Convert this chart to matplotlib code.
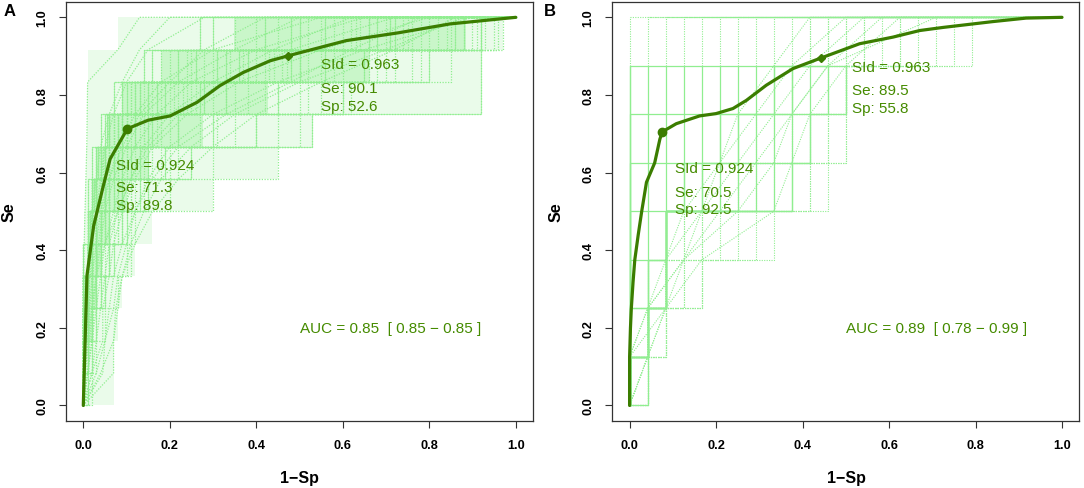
import matplotlib
matplotlib.use("Agg")
import matplotlib.pyplot as plt
import numpy as np

plt.rcParams['font.family'] = ['Liberation Sans', 'DejaVu Sans']

# ---------------- data ----------------
tick_vals = [0.0, 0.2, 0.4, 0.6, 0.8, 1.0]
tick_labels = ["0.0", "0.2", "0.4", "0.6", "0.8", "1.0"]

# Panel A: mean ROC curve
A_fpr = [0, 0.0085, 0.024, 0.045, 0.062, 0.085, 0.102, 0.15, 0.201, 0.263, 0.316,
         0.370, 0.432, 0.474, 0.608, 0.728, 0.848, 1.0]
A_se = [0, 0.335, 0.463, 0.56, 0.635, 0.68, 0.713, 0.735, 0.746, 0.781, 0.824,
        0.858, 0.888, 0.901, 0.94, 0.96, 0.983, 1.0]
A_cut1 = (0.102, 0.713)
A_cut2 = (0.474, 0.901)
A_levels = 12
# bootstrap step curves (x where the curve rises to level k/12)
A_steps = [
    [0, 0, 0, 0, 0.01, 0.02, 0.03, 0.05, 0.08, 0.15, 0.33, 0.50],
    [0, 0, 0, 0.01, 0.02, 0.03, 0.04, 0.06, 0.10, 0.20, 0.40, 0.62],
    [0, 0, 0.01, 0.01, 0.02, 0.04, 0.06, 0.09, 0.14, 0.26, 0.47, 0.70],
    [0, 0, 0, 0, 0, 0.01, 0.02, 0.03, 0.05, 0.10, 0.22, 0.42],
    [0, 0.01, 0.01, 0.02, 0.03, 0.05, 0.08, 0.12, 0.20, 0.35, 0.55, 0.80],
    [0, 0, 0, 0.01, 0.01, 0.02, 0.03, 0.04, 0.07, 0.12, 0.28, 0.58],
    [0, 0, 0.02, 0.03, 0.04, 0.06, 0.09, 0.15, 0.30, 0.45, 0.65, 0.86],
    [0, 0, 0, 0, 0.01, 0.01, 0.02, 0.04, 0.06, 0.09, 0.18, 0.35],
    [0, 0.01, 0.02, 0.03, 0.05, 0.08, 0.12, 0.20, 0.40, 0.55, 0.72, 0.95],
    [0, 0, 0, 0.01, 0.02, 0.02, 0.03, 0.05, 0.09, 0.17, 0.36, 0.66],
    [0, 0, 0.01, 0.02, 0.03, 0.04, 0.05, 0.07, 0.11, 0.22, 0.44, 0.75],
    [0, 0, 0, 0, 0.01, 0.03, 0.04, 0.06, 0.08, 0.14, 0.30, 0.52],
    [0.01, 0.02, 0.03, 0.05, 0.07, 0.10, 0.15, 0.25, 0.40, 0.60, 0.80, 0.92],
    [0, 0, 0, 0.01, 0.01, 0.02, 0.04, 0.05, 0.07, 0.11, 0.25, 0.55],
    [0, 0, 0.01, 0.01, 0.02, 0.03, 0.05, 0.08, 0.13, 0.24, 0.50, 0.85],
    [0, 0, 0, 0, 0, 0.01, 0.01, 0.02, 0.04, 0.07, 0.14, 0.30],
    [0, 0.02, 0.03, 0.04, 0.06, 0.09, 0.14, 0.22, 0.35, 0.52, 0.70, 0.90],
    [0, 0, 0.01, 0.02, 0.02, 0.04, 0.06, 0.10, 0.18, 0.30, 0.52, 0.78],
    [0, 0, 0, 0.01, 0.02, 0.03, 0.05, 0.07, 0.12, 0.19, 0.38, 0.68],
    [0, 0, 0, 0, 0.01, 0.02, 0.03, 0.05, 0.09, 0.16, 0.34, 0.60],
    [0.02, 0.03, 0.05, 0.08, 0.10, 0.12, 0.20, 0.30, 0.45, 0.60, 0.78, 0.91],
    [0, 0, 0.01, 0.01, 0.03, 0.05, 0.07, 0.11, 0.16, 0.28, 0.48, 0.72],
    [0, 0, 0, 0.01, 0.02, 0.04, 0.06, 0.08, 0.12, 0.23, 0.42, 0.64],
    [0, 0.01, 0.02, 0.03, 0.04, 0.07, 0.11, 0.18, 0.31, 0.50, 0.68, 0.84],
    [0, 0, 0, 0, 0.01, 0.01, 0.02, 0.03, 0.06, 0.13, 0.31, 0.56],
    [0, 0, 0.01, 0.02, 0.04, 0.06, 0.10, 0.16, 0.27, 0.42, 0.60, 0.82],
    [0, 0, 0, 0.01, 0.01, 0.02, 0.03, 0.06, 0.10, 0.21, 0.46, 0.74],
    [0, 0, 0.02, 0.04, 0.06, 0.09, 0.13, 0.19, 0.53, 0.92, 0.92, 0.92],
    [0, 0, 0, 0.01, 0.02, 0.03, 0.04, 0.06, 0.09, 0.15, 0.85, 0.96],
    [0, 0, 0, 0, 0.01, 0.02, 0.03, 0.04, 0.07, 0.11, 0.20, 0.40],
    [0, 0.01, 0.01, 0.02, 0.03, 0.04, 0.06, 0.09, 0.15, 0.27, 0.56, 0.88],
    [0, 0, 0.01, 0.02, 0.11, 0.11, 0.30, 0.45, 0.50, 0.62, 0.76, 0.93],
    [0, 0, 0, 0.01, 0.01, 0.03, 0.05, 0.07, 0.10, 0.18, 0.37, 0.63],
    [0, 0, 0, 0, 0.01, 0.02, 0.02, 0.04, 0.06, 0.12, 0.26, 0.48],
    [0, 0, 0.02, 0.05, 0.06, 0.08, 0.11, 0.14, 0.22, 0.38, 0.66, 0.97],
    [0, 0, 0, 0.01, 0.02, 0.03, 0.05, 0.08, 0.17, 0.33, 0.58, 0.76],
    [0, 0, 0, 0.005, 0.01, 0.015, 0.025, 0.035, 0.055, 0.09, 0.16, 0.27],
    [0, 0.005, 0.01, 0.02, 0.03, 0.05, 0.07, 0.10, 0.14, 0.25, 0.43, 0.66],
    [0, 0, 0.005, 0.01, 0.015, 0.02, 0.03, 0.045, 0.08, 0.13, 0.24, 0.45],
    [0, 0.01, 0.02, 0.03, 0.04, 0.06, 0.09, 0.13, 0.22, 0.33, 0.50, 0.71],
]
# bootstrap curves with tied values (x at each level k/12, k = 0..12)
A_ties = [
    [0, 0.005, 0.01, 0.015, 0.02, 0.03, 0.04, 0.06, 0.08, 0.12, 0.18, 0.30, 0.55],
    [0, 0.02, 0.045, 0.045, 0.06, 0.07, 0.09, 0.12, 0.16, 0.24, 0.36, 0.55, 0.80],
    [0, 0.01, 0.02, 0.03, 0.04, 0.05, 0.07, 0.09, 0.12, 0.17, 0.25, 0.40, 0.65],
    [0, 0.03, 0.05, 0.07, 0.08, 0.10, 0.12, 0.15, 0.20, 0.30, 0.45, 0.65, 0.90],
    [0, 0, 0, 0.005, 0.01, 0.015, 0.02, 0.03, 0.04, 0.06, 0.09, 0.13, 0.20],
    [0, 0, 0.005, 0.01, 0.01, 0.02, 0.03, 0.04, 0.05, 0.07, 0.10, 0.15, 0.28],
    [0, 0.01, 0.015, 0.02, 0.03, 0.04, 0.05, 0.07, 0.10, 0.14, 0.22, 0.35, 0.50],
    [0, 0.04, 0.07, 0.08, 0.09, 0.11, 0.14, 0.18, 0.25, 0.35, 0.50, 0.70, 0.88],
    [0, 0.005, 0.01, 0.02, 0.03, 0.05, 0.08, 0.11, 0.15, 0.22, 0.32, 0.48, 0.72],
    [0, 0, 0, 0, 0, 0.002, 0.004, 0.006, 0.008, 0.009, 0.01, 0.08, 0.13],
    [0, 0.01, 0.02, 0.025, 0.03, 0.035, 0.045, 0.06, 0.09, 0.13, 0.20, 0.28, 0.42],
    [0, 0.02, 0.03, 0.04, 0.05, 0.06, 0.08, 0.11, 0.14, 0.20, 0.30, 0.44, 0.62],
    [0, 0.07, 0.07, 0.075, 0.09, 0.12, 0.16, 0.22, 0.30, 0.40, 0.55, 0.72, 0.86],
    [0, 0.045, 0.05, 0.06, 0.07, 0.09, 0.12, 0.16, 0.22, 0.33, 0.48, 0.62, 0.78],
]

# Panel B: mean ROC curve
B_fpr = [0, 0, 0.002, 0.004, 0.008, 0.012, 0.02, 0.028, 0.039, 0.058, 0.070, 0.0755,
         0.108, 0.162, 0.2, 0.239, 0.27, 0.316, 0.378, 0.442, 0.532, 0.609, 0.671,
         0.725, 0.84, 0.917, 1.0]
B_se = [0, 0.125, 0.2, 0.25, 0.318, 0.375, 0.44, 0.5, 0.575, 0.625, 0.686, 0.705,
        0.726, 0.746, 0.752, 0.765, 0.786, 0.825, 0.868, 0.895, 0.932, 0.949, 0.966,
        0.974, 0.989, 0.998, 1.0]
B_cut1 = (0.075, 0.705)
B_cut2 = (0.442, 0.895)
B_levels = 8
B_neg = 24
# bootstrap step curves: count of negatives (x = count/24) at which each level j/8 is reached
B_solid = [
    [0, 0, 0, 0, 0, 0, 0, 0],
    [1, 1, 1, 1, 1, 1, 1, 1],
    [0, 1, 2, 2, 2, 2, 2, 2],
    [0, 0, 0, 2, 3, 3, 3, 3],
    [0, 1, 2, 2, 4, 4, 4, 4],
    [0, 1, 2, 2, 5, 5, 5, 5],
    [0, 0, 1, 2, 6, 6, 6, 6],
    [0, 1, 2, 2, 7, 7, 7, 7],
    [0, 0, 2, 2, 8, 8, 8, 8],
    [0, 1, 2, 2, 9, 9, 9, 9],
    [0, 0, 0, 0, 9, 10, 10, 10],
    [0, 0, 0, 0, 0, 10, 11, 11],
    [0, 0, 0, 0, 0, 0, 12, 12],
    [0, 0, 0, 0, 0, 0, 0, 12],
    [0, 1, 1, 2, 3, 5, 8, 10],
    [0, 1, 2, 2, 4, 6, 9, 11],
]
B_dotted = [
    [0, 1, 2, 4, 6, 9, 11, 13],
    [0, 2, 4, 8, 11, 12, 12, 19],
    [1, 2, 3, 6, 10, 11, 12, 16],
    [0, 1, 4, 5, 8, 10, 12, 17],
    [1, 1, 2, 3, 7, 12, 12, 14],
    [0, 0, 1, 3, 5, 8, 11, 15],
    [0, 1, 2, 2, 4, 7, 9, 18],
    [1, 2, 3, 4, 6, 9, 12, 13],
    [1, 2, 4, 7, 10, 11, 12, 15],
]
# tied curves: count of negatives at each level j/8, j = 0..8
B_ties = [
    [0, 0, 1, 2, 3, 5, 6, 8, 10],
    [0, 1, 2, 3, 5, 7, 9, 11, 14],
    [0, 1, 1, 3, 4, 6, 8, 10, 13],
    [0, 0, 2, 4, 8, 9, 10, 12, 15],
    [0, 1, 2, 2, 4, 5, 7, 9, 12],
    [0, 0, 1, 3, 6, 8, 9, 11, 17],
]

A_texts = [("SId = 0.963", 0.55, 0.880), ("Se: 90.1", 0.55, 0.817), ("Sp: 52.6", 0.55, 0.771),
           ("SId = 0.924", 0.075, 0.620), ("Se: 71.3", 0.075, 0.562), ("Sp: 89.8", 0.075, 0.517)]
B_texts = [("SId = 0.963", 0.515, 0.873), ("Se: 89.5", 0.515, 0.813), ("Sp: 55.8", 0.515, 0.767),
           ("SId = 0.924", 0.106, 0.611), ("Se: 70.5", 0.106, 0.551), ("Sp: 92.5", 0.106, 0.506)]
A_auc = "AUC = 0.85  [ 0.85 \u2212 0.85 ]"
B_auc = "AUC = 0.89  [ 0.78 \u2212 0.99 ]"

# ---------------- style ----------------
LIGHT = '#90EE90'
DARK = '#3B7D00'
TXT = '#458B00'
DOT = (0, (1.0, 1.2))


def staircase(xs_rise, n):
    xs, ys = [0.0], [0.0]
    for k, u in enumerate(xs_rise, start=1):
        xs += [u, u]
        ys += [(k - 1) / n, k / n]
    xs.append(1.0)
    ys.append(1.0)
    return xs, ys


fig = plt.figure(figsize=(10.84, 4.89), dpi=100)
axA = fig.add_axes([0.06089, 0.13701, 0.43081, 0.85726])
axB = fig.add_axes([0.56485, 0.13701, 0.43081, 0.85726])

# Panel A: density of the bootstrap curves per level band
U = np.array(A_steps)
T = np.array(A_ties)
for k in range(1, A_levels + 1):
    col = U[:, k - 1]
    lo = min(col.min(), T[:, k - 1].min())
    hi = max(col.max(), T[:, k].max())
    q_lo, q_hi = np.quantile(col, 0.05), np.quantile(col, 0.8)
    y0, y1 = (k - 1) / A_levels, k / A_levels
    axA.fill_betweenx([y0, y1], lo, hi, color=LIGHT, alpha=0.18, lw=0, zorder=0.5)
    axA.fill_betweenx([y0, y1], q_lo, q_hi, color=LIGHT, alpha=0.36, lw=0, zorder=0.5)

for c in A_steps:
    xs, ys = staircase(c, A_levels)
    axA.plot(xs, ys, color=LIGHT, lw=0.9, ls=DOT, zorder=1)
for c in A_ties:
    ys = [k / A_levels for k in range(len(c))]
    axA.plot(list(c) + [1.0], ys + [1.0], color=LIGHT, lw=0.9, ls=DOT, zorder=1)
for c in A_steps[::3]:
    xs, ys = staircase(c, A_levels)
    axA.plot(xs, ys, color=LIGHT, lw=0.8, alpha=0.7, zorder=1)

# Panel B background
for c in B_solid:
    xs, ys = staircase([v / B_neg for v in c], B_levels)
    axB.plot(xs[:-2], ys[:-2], color=LIGHT, lw=0.9, zorder=1)
    axB.plot(xs[-3:], ys[-3:], color=LIGHT, lw=0.8, ls=DOT, zorder=1)
for c in B_dotted:
    xs, ys = staircase([v / B_neg for v in c], B_levels)
    axB.plot(xs, ys, color=LIGHT, lw=0.8, ls=DOT, zorder=1)
for c in B_ties:
    ys = [j / B_levels for j in range(len(c))]
    axB.plot([v / B_neg for v in c] + [1.0], ys + [1.0], color=LIGHT, lw=0.8, ls=DOT, zorder=1)

# mean curves + cut points + texts
for ax, fx, fy, c1, c2, texts, auc in [
        (axA, A_fpr, A_se, A_cut1, A_cut2, A_texts, A_auc),
        (axB, B_fpr, B_se, B_cut1, B_cut2, B_texts, B_auc)]:
    ax.plot(fx, fy, color=DARK, lw=2.3, solid_joinstyle='round', solid_capstyle='round', zorder=3)
    ax.plot([c1[0]], [c1[1]], 'o', color=DARK, ms=6, zorder=4)
    ax.plot([c2[0]], [c2[1]], 'D', color=DARK, ms=4.2, zorder=4)
    for s, x, y in texts:
        ax.text(x, y, s, color=TXT, fontsize=11, ha='left', va='center', zorder=5)
    ax.text(0.5, 0.2, auc, color=TXT, fontsize=11, ha='left', va='center', zorder=5)

    ax.set_xlim(-0.04, 1.04)
    ax.set_ylim(-0.04, 1.04)
    ax.set_xticks(tick_vals)
    ax.set_yticks(tick_vals)
    ax.set_xticklabels(tick_labels, fontsize=9.2, fontweight='bold')
    ax.set_yticklabels(tick_labels, fontsize=9.2, fontweight='bold', rotation=90, va='center')
    ax.tick_params(direction='out', length=5, width=0.8, pad=7.7, color='#333333')
    for sp in ax.spines.values():
        sp.set_linewidth(0.9)
        sp.set_color('#333333')

W, H = 1084, 489
def fx_(px):
    return px / W
def fy_(py):
    return 1 - py / H

fig.text(fx_(299.5), fy_(478.3), "1\u2212Sp", fontsize=11.5, fontweight='bold', ha='center', va='center')
fig.text(fx_(846), fy_(478.3), "1\u2212Sp", fontsize=11.5, fontweight='bold', ha='center', va='center')
fig.text(fx_(9.5), fy_(212), "Se", fontsize=11.5, fontweight='bold', ha='center', va='center', rotation=90)
fig.text(fx_(556), fy_(212), "Se", fontsize=11.5, fontweight='bold', ha='center', va='center', rotation=90)
fig.text(fx_(10), fy_(11), "A", fontsize=12, fontweight='bold', ha='center', va='center')
fig.text(fx_(550), fy_(11), "B", fontsize=12, fontweight='bold', ha='center', va='center')

fig.savefig("out.png", dpi=100)
